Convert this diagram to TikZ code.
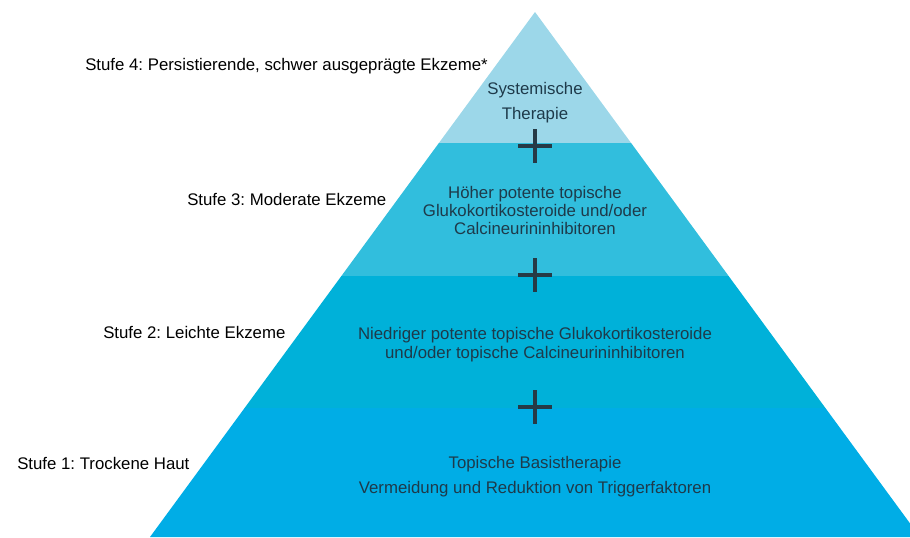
\documentclass[tikz,border=0pt]{standalone}
\usepackage{fontspec}
\setmainfont{Liberation Sans}
\frenchspacing
\definecolor{tierfour}{RGB}{156,215,233}
\definecolor{tierthree}{RGB}{49,190,221}
\definecolor{tiertwo}{RGB}{0,177,217}
\definecolor{tierone}{RGB}{0,173,230}
\definecolor{tiertext}{RGB}{30,58,74}
\definecolor{plusdark}{RGB}{38,58,70}
\tikzset{
    stufe/.style={anchor=west, inner sep=0pt, font=\fontsize{12.6}{15}\selectfont, black},
    inhalt/.style={align=center, inner sep=0pt, text=tiertext, font=\fontsize{12.6}{13.5}\selectfont},
    plus/.style={plusdark, line width=3pt}
}
\begin{document}
\begin{tikzpicture}[x=0.75pt, y=-0.75pt]
    % Frame of the picture, in pixel units (y runs downwards)
    \useasboundingbox (0,0) rectangle (910,537);
    \clip (0,0) rectangle (910,537);

    % Stufe 4 (top of the pyramid)
    \fill[tierfour] (535,12) -- (438.9,143) -- (631.1,143) -- cycle;
    % Stufe 3
    \fill[tierthree] (438.9,143) -- (341.4,276) -- (728.6,276) -- (631.1,143) -- cycle;
    % Stufe 2
    \fill[tiertwo] (341.4,276) -- (244.6,408) -- (825.4,408) -- (728.6,276) -- cycle;
    % Stufe 1 (base, runs out of the frame on the right)
    \fill[tierone] (244.6,408) -- (150,537) -- (920,537) -- (825.4,408) -- cycle;

    % Plus signs between the tiers
    \foreach \y in {146,275,407} {
        \draw[plus] (518,\y) -- (552,\y);
        \draw[plus] (535,\y-17) -- (535,\y+17);
    }

    % Labels on the left
    \node[stufe] (s4) at (85,66.5) {Stufe 4: Persistierende, schwer ausgeprägte Ekzeme*};
    \node[stufe] (s3) at (187,199) {Stufe 3: Moderate Ekzeme};
    \node[stufe] (s2) at (103,332) {Stufe 2: Leichte Ekzeme};
    \node[stufe] (s1) at (17,463.5) {Stufe 1: Trockene Haut};

    % Therapy text inside the tiers
    \node[inhalt, font=\fontsize{12.6}{18.75}\selectfont] (t4) at (535,103) {Systemische\\Therapie};
    \node[inhalt] (t3) at (535,210) {Höher potente topische\\Glukokortikosteroide und/oder\\Calcineurininhibitoren};
    \node[inhalt, font=\fontsize{12.6}{14.2}\selectfont] (t2) at (535,345) {Niedriger potente topische Glukokortikosteroide\\und/oder topische Calcineurininhibitoren};
    \node[inhalt, font=\fontsize{12.6}{18.75}\selectfont] (t1) at (535,477) {Topische Basistherapie\\Vermeidung und Reduktion von Triggerfaktoren};
\end{tikzpicture}
\end{document}
